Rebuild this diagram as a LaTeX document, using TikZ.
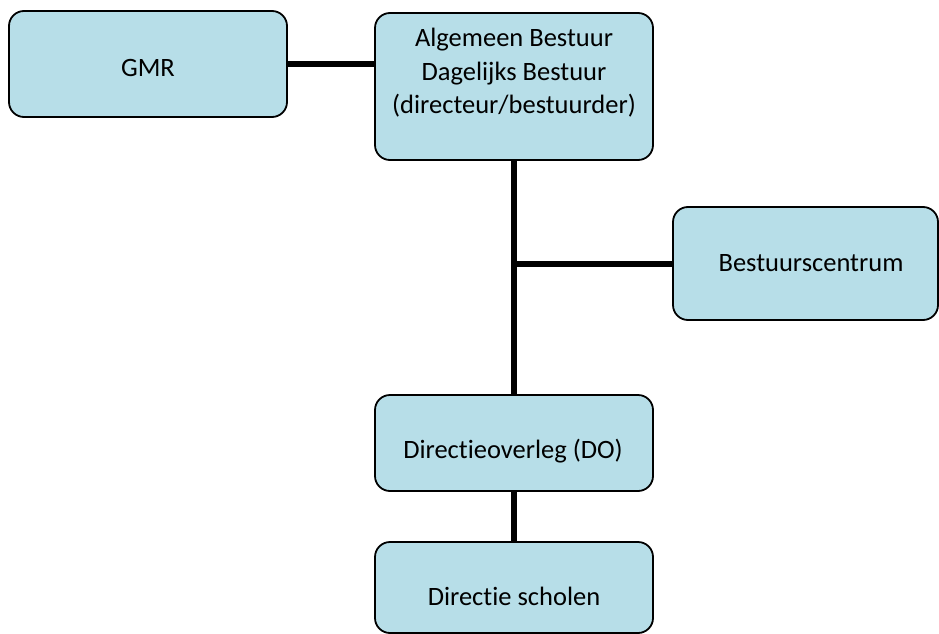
\documentclass[tikz,border=0pt]{standalone}
\usepackage{fontspec}
\setmainfont{Carlito}[Ligatures={NoCommon}]
\definecolor{boxfill}{HTML}{B7DEE8}
\begin{document}
\begin{tikzpicture}[x=1pt,y=-1pt,
  orgbox/.style={draw=black,line width=1.8pt,fill=boxfill,rounded corners=15pt,
    inner sep=0pt,minimum width=#1},
  orgtext/.style={anchor=base,inner sep=0pt,font=\fontsize{26.5}{33}\selectfont,align=center},
  link/.style={line width=6pt,black}]
\useasboundingbox (0,0) rectangle (939,634);
% boxes
\node[orgbox=278pt,minimum height=106pt] (gmr) at (148,64) {};
\node[orgbox=278pt,minimum height=147pt] (ab) at (514,86.5) {};
\node[orgbox=265pt,minimum height=113pt] (bc) at (805.5,263.5) {};
\node[orgbox=278pt,minimum height=96pt] (do) at (514,443) {};
\node[orgbox=278pt,minimum height=91pt] (ds) at (514,587.5) {};
% junction
\coordinate (j) at (514,264);
% connectors
\draw[link] (gmr.east) -- (gmr.east -| ab.west);
\draw[link] (ab.south) -- (do.north);
\draw[link] (j) -- (j -| bc.west);
\draw[link] (do.south) -- (ds.north);
% texts
\node[orgtext] (tgmr) at (148,76) {GMR};
\node[orgtext] (tab1) at (514,47) {Algemeen Bestuur};
\node[orgtext] (tab2) at (514,80) {Dagelijks Bestuur};
\node[orgtext] (tab3) at (514,113) {(directeur/bestuurder)};
\node[orgtext] (tbc) at (811,271) {Bestuurscentrum};
\node[orgtext] (tdo) at (513,458) {Directieoverleg (DO)};
\node[orgtext] (tds) at (514,605) {Directie scholen};
\end{tikzpicture}
\end{document}
